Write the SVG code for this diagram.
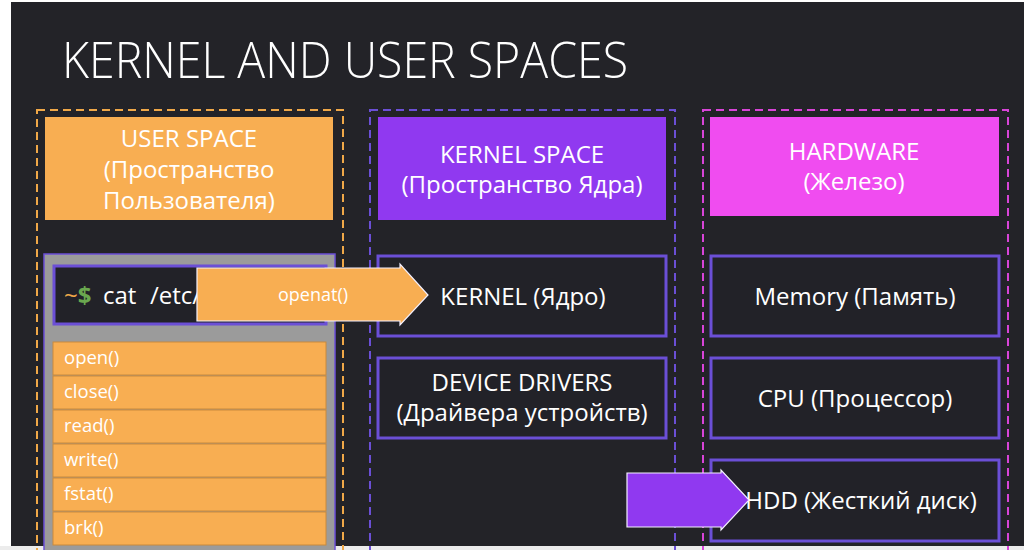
<svg xmlns="http://www.w3.org/2000/svg" width="1024" height="550" viewBox="0 0 1024 550">
  <defs>
    <style>
      .txt { font-family: "Open Sans", "Noto Sans", "DejaVu Sans", sans-serif; fill: #ffffff; }
      .hdr { font-size: 24px; text-anchor: middle; }
      .lbl { font-size: 24px; text-anchor: middle; }
      .item { font-size: 18.5px; }
      .zone { fill: none; stroke-width: 2; stroke-dasharray: 8 5; }
      .box { fill: #222228; stroke: #6b4fd6; stroke-width: 3; }
      .call { fill: #f8ae52; stroke: #c98a3c; stroke-width: 1; }
      .arrow { stroke: #f4f0ff; stroke-width: 1.2; }
    </style>
  </defs>

  <!-- page and slide background -->
  <rect x="0" y="0" width="1024" height="550" fill="#ffffff"/>
  <rect x="11" y="2" width="1013" height="544" fill="#232328"/>
  <rect x="0" y="546" width="1024" height="4" fill="#ececec"/>

  <!-- title -->
  <text class="txt" x="62" y="78" font-size="50" font-weight="300" textLength="566" lengthAdjust="spacingAndGlyphs">KERNEL AND USER SPACES</text>

  <!-- user space column -->
  <g id="user-space">
    <rect class="zone" x="37" y="110" width="306" height="450" stroke="#f0a848"/>
    <rect x="45" y="117" width="288" height="103" fill="#f8ae52"/>
    <text class="txt hdr" x="189" y="147">USER SPACE</text>
    <text class="txt hdr" x="189" y="178">(Пространство</text>
    <text class="txt hdr" x="189" y="209">Пользователя)</text>
  </g>

  <g id="syscall-panel">
    <rect x="44" y="254" width="291" height="300" fill="#9b9b9b" stroke="#6b4fd6" stroke-width="1.5"/>
  </g>

  <g id="terminal">
    <rect class="box" x="54" y="266" width="272" height="58" fill="#202024"/>
    <text class="txt" x="64" y="304" font-size="24"><tspan fill="#f0a848">~</tspan><tspan fill="#6aa84f" font-weight="bold">$</tspan><tspan x="103">cat</tspan><tspan x="150">/etc/</tspan></text>
  </g>

  <g id="syscalls">
    <rect class="call" x="53" y="342" width="273" height="33"/>
    <text class="txt item" x="64" y="364">open()</text>
    <rect class="call" x="53" y="376" width="273" height="33"/>
    <text class="txt item" x="64" y="398">close()</text>
    <rect class="call" x="53" y="410" width="273" height="33"/>
    <text class="txt item" x="64" y="432">read()</text>
    <rect class="call" x="53" y="444" width="273" height="33"/>
    <text class="txt item" x="64" y="466">write()</text>
    <rect class="call" x="53" y="478" width="273" height="33"/>
    <text class="txt item" x="64" y="500">fstat()</text>
    <rect class="call" x="53" y="512" width="273" height="33"/>
    <text class="txt item" x="64" y="534">brk()</text>
  </g>

  <!-- kernel space column -->
  <g id="kernel-space">
    <rect class="zone" x="370" y="110" width="305" height="450" stroke="#6b4fd6"/>
    <rect x="378" y="117" width="288" height="103" fill="#9039f0"/>
    <text class="txt hdr" x="522" y="163">KERNEL SPACE</text>
    <text class="txt hdr" x="522" y="193">(Пространство Ядра)</text>
  </g>

  <g id="kernel">
    <rect class="box" x="378" y="256" width="288" height="80"/>
    <text class="txt lbl" x="523" y="305">KERNEL (Ядро)</text>
  </g>

  <g id="device-drivers">
    <rect class="box" x="378" y="358" width="288" height="80"/>
    <text class="txt lbl" x="522" y="391">DEVICE DRIVERS</text>
    <text class="txt lbl" x="522" y="421">(Драйвера устройств)</text>
  </g>

  <!-- hardware column -->
  <g id="hardware">
    <rect class="zone" x="703" y="110" width="305" height="450" stroke="#d844d8"/>
    <rect x="710" y="117" width="289" height="99" fill="#f04cf0"/>
    <text class="txt hdr" x="854" y="160">HARDWARE</text>
    <text class="txt hdr" x="854" y="190">(Железо)</text>
  </g>

  <g id="memory">
    <rect class="box" x="711" y="256" width="288" height="80"/>
    <text class="txt lbl" x="855" y="305">Memory (Память)</text>
  </g>

  <g id="cpu">
    <rect class="box" x="711" y="358" width="288" height="80"/>
    <text class="txt lbl" x="855" y="407">CPU (Процессор)</text>
  </g>

  <g id="hdd">
    <rect class="box" x="711" y="460" width="288" height="81"/>
    <text class="txt lbl" x="861" y="509">HDD (Жесткий диск)</text>
  </g>

  <!-- connectors -->
  <g id="connectors">
    <path class="arrow" d="M197,268 H400 V264 L428,295 L400,325 V321 H197 Z" fill="#f8ae52"/>
    <text class="txt" x="313" y="301" font-size="18" text-anchor="middle">openat()</text>
    <path class="arrow" d="M627,473 H721 V470 L749,500 L721,530 V527 H627 Z" fill="#9039f0"/>
  </g>
</svg>
